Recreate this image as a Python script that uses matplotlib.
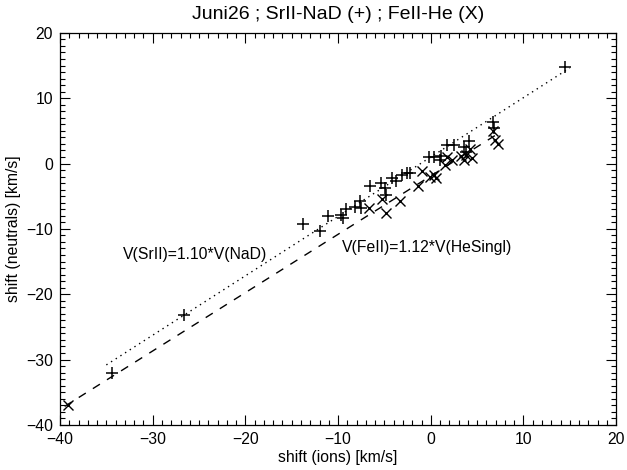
import numpy as np
import matplotlib
matplotlib.use("Agg")
import matplotlib.pyplot as plt
from matplotlib.ticker import MultipleLocator

plt.rcParams["font.family"] = ["Liberation Sans", "DejaVu Sans"]

# SrII (ions) vs NaD (neutrals), marker +
srii_x = [-34.4, -26.6, -13.75, -11.95, -11.1, -9.7, -9.45, -9.1, -8.2, -7.6, -7.5,
          -6.6, -5.4, -4.9, -4.85, -4.2, -3.7, -3.1, -2.6, -2.2, -0.2, 0.3, 1.1,
          1.7, 2.5, 1.0, 3.8, 4.1, 3.6, 6.7, 6.8, 14.5]
nad_y = [-32.0, -23.2, -9.3, -10.3, -8.1, -7.8, -8.3, -7.0, -6.7, -5.8, -6.8,
         -3.5, -3.0, -3.7, -4.8, -2.2, -2.7, -1.7, -1.5, -1.4, 1.0, 1.0, 1.2,
         2.9, 2.8, 0.5, 1.7, 3.4, 2.6, 6.3, 5.5, 14.8]

# FeII (ions) vs He singlet (neutrals), marker X
feii_x = [-39.1, -6.7, -5.3, -4.8, -3.3, -1.4, -1.0, -0.1, 0.3, 0.6, 1.5, 1.7,
          2.3, 3.3, 3.8, 4.2, 3.6, 4.5, 6.7, 6.9, 7.3]
he_y = [-37.0, -6.8, -5.5, -7.5, -5.7, -3.5, -1.2, -2.0, -1.7, -2.2, -0.2, 1.0,
        0.6, 1.1, 1.3, 2.3, 0.5, 0.9, 5.0, 3.6, 3.0]

# fitted relations: neutrals = ions / factor + offset, drawn over [x0, x1]
fit_sr = (1.10, 1.0, -35.0, 15.0)
fit_fe = (1.12, -1.9, -39.5, 7.5)

fig = plt.figure(figsize=(6.27, 4.70), dpi=100)
ax = fig.add_axes([0.0957, 0.096, 0.887, 0.834])

ax.plot(srii_x, nad_y, ls="none", marker="+", ms=8, mew=1.1, color="black")
ax.plot(feii_x, he_y, ls="none", marker="x", ms=7.5, mew=1.0, color="black")

f, b, x0, x1 = fit_sr
xs = np.array([x0, x1])
ax.plot(xs, xs / f + b, ls=(0, (1, 3)), lw=1.0, color="black")
f, b, x0, x1 = fit_fe
xs = np.array([x0, x1])
ax.plot(xs, xs / f + b, ls=(0, (6, 6)), lw=1.0, color="black")

ax.text(-33.2, -13.9, "V(SrII)=1.10*V(NaD)", fontsize=11.3, va="center", ha="left")
ax.text(-9.6, -12.9, "V(FeII)=1.12*V(HeSingl)", fontsize=11.3, va="center", ha="left")

ax.set_xlim(-40, 20)
ax.set_ylim(-40, 20)
ax.xaxis.set_major_locator(MultipleLocator(10))
ax.yaxis.set_major_locator(MultipleLocator(10))
ax.xaxis.set_minor_locator(MultipleLocator(1))
ax.yaxis.set_minor_locator(MultipleLocator(1))
ax.tick_params(which="both", direction="in", top=True, right=True, width=0.8, labelsize=11.3, pad=5)
ax.tick_params(which="major", length=7)
ax.tick_params(which="minor", length=3.5)
for s in ax.spines.values():
    s.set_linewidth(0.9)

ax.set_xlabel("shift (ions) [km/s]", fontsize=11.3, labelpad=2)
ax.set_ylabel("shift (neutrals) [km/s]", fontsize=11.3, labelpad=4)
ax.set_title("Juni26 ; SrII-NaD (+) ; FeII-He (X)", fontsize=14, pad=10)

fig.savefig("out.png")
